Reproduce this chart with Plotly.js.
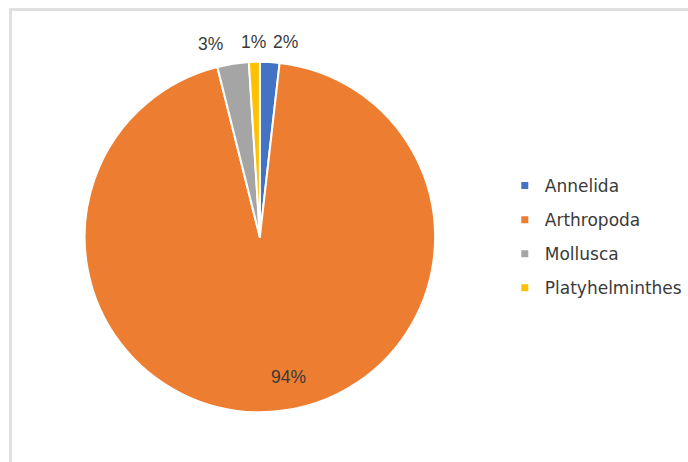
<!DOCTYPE html>
<html>
<head>
<meta charset="utf-8">
<script src="https://cdn.plot.ly/plotly-3.0.1.min.js"></script>
<style>
  html, body { margin: 0; padding: 0; background: #fff; }
  #chart { width: 688px; height: 462px; position: relative; }
  #frame { position: absolute; left: 9px; top: 8px; right: 0; bottom: 0;
           border-left: 3px solid #e0e0e0; border-top: 3px solid #e0e0e0;
           pointer-events: none; }
</style>
</head>
<body>
<div style="position:relative;width:688px;height:462px;">
  <div id="chart"></div>
  <div id="frame"></div>
</div>
<script>
const categories = ["Annelida", "Arthropoda", "Mollusca", "Platyhelminthes"];
const values = [1.8, 94.3, 2.9, 1.0];
const colors = ["#4472C4", "#ED7D31", "#A5A5A5", "#FFC000"];

const W = 688, H = 462;
const cx = 261, cy = 237, r = 176;
// label placement: radius factor, anchor and nudge per slice (Excel "best fit" style)
const labelRadius = [1.11, 0.8, 1.11, 1.11];
const labelAnchor = ["left", "left", "right", "center"];
const labelShift = [0, 0, -5, 0];

const total = values.reduce((a, b) => a + b, 0);
const annotations = [];
let acc = 0;
values.forEach((v, i) => {
  const mid = (acc + v / 2) / total * 2 * Math.PI; // clockwise from 12 o'clock
  acc += v;
  const rr = r * labelRadius[i];
  const px = cx + rr * Math.sin(mid);
  const py = cy - rr * Math.cos(mid);
  annotations.push({
    xref: "paper", yref: "paper",
    x: px / W, y: 1 - py / H,
    xanchor: labelAnchor[i], yanchor: "middle",
    xshift: labelShift[i],
    text: Math.round(v / total * 100) + "%",
    showarrow: false,
    font: { family: "Liberation Sans, Arial, sans-serif", size: 17.5, color: "#3a3a3a" }
  });
});

const pie = {
  type: "pie",
  labels: categories,
  values: values,
  sort: false,
  direction: "clockwise",
  rotation: 0,
  marker: { colors: colors, line: { color: "#ffffff", width: 2 } },
  textinfo: "none",
  showlegend: false,
  hoverinfo: "label+percent",
  domain: { x: [(cx - r) / W, (cx + r) / W], y: [(H - cy - r) / H, (H - cy + r) / H] }
};

const legendTraces = categories.map((c, i) => ({
  type: "scatter",
  mode: "markers",
  x: [null], y: [null],
  name: c,
  legendgroup: c,
  marker: { symbol: "square", size: 7, color: colors[i] },
  showlegend: true,
  hoverinfo: "skip"
}));

const layout = {
  width: W, height: H,
  margin: { l: 0, r: 0, t: 0, b: 0 },
  paper_bgcolor: "rgba(0,0,0,0)",
  plot_bgcolor: "rgba(0,0,0,0)",
  xaxis: { visible: false },
  yaxis: { visible: false },
  showlegend: true,
  annotations: annotations,
  legend: {
    x: 507 / W, y: (H - 168) / H, xanchor: "left", yanchor: "top",
    traceorder: "grouped", tracegroupgap: 9, itemwidth: 30,
    font: { family: "DejaVu Sans, sans-serif", size: 17, color: "#3a3a3a" },
    bgcolor: "rgba(0,0,0,0)"
  }
};

Plotly.newPlot("chart", [pie, ...legendTraces], layout, { displayModeBar: false, staticPlot: true });
</script>
</body>
</html>
